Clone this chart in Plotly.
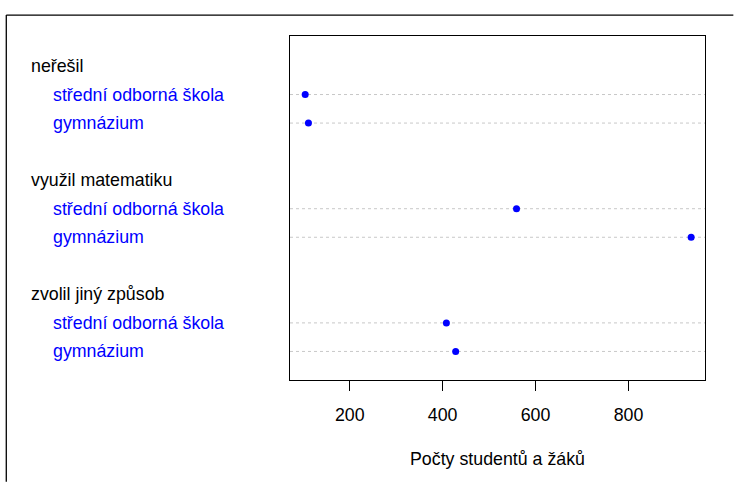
import plotly.graph_objects as go

# Data
groups = ["neřešil", "využil matematiku", "zvolil jiný způsob"]
schools = ["střední odborná škola", "gymnázium"]
sos_values = [104, 559, 408]
gym_values = [111, 935, 428]
x_ticks = [200, 400, 600, 800]
x_title = "Počty studentů a žáků"

W, H = 734, 483
L, R, T, B = 290.3, 29.3, 35.5, 103
pw, ph = W - L - R, H - T - B

def px2paper_x(px):
    return (px - L) / pw

def px2paper_y(py):
    return (H - B - py) / ph

FONT = "Liberation Sans, Arial, sans-serif"
FS = 17.8

# positions as in R dotchart with groups
n_groups = len(groups)
total = n_groups * 4 - 1
header_pos, sos_pos, gym_pos = [], [], []
for i in range(n_groups):
    top = total - 4 * i
    header_pos.append(top)
    sos_pos.append(top - 1)
    gym_pos.append(top - 2)

fig = go.Figure()
fig.add_trace(go.Scatter(
    x=sos_values + gym_values,
    y=sos_pos + gym_pos,
    mode="markers",
    marker=dict(color="#0000ff", size=7, line=dict(width=0)),
    showlegend=False,
    hoverinfo="skip",
))

shapes = []
for yp in sos_pos + gym_pos:
    shapes.append(dict(type="line", xref="paper", yref="y", x0=0, x1=1, y0=yp, y1=yp,
                       line=dict(color="#c8c8c8", width=1, dash="dot"), layer="below"))
# outer frame (top + left)
shapes.append(dict(type="line", xref="paper", yref="paper",
                   x0=px2paper_x(7), x1=px2paper_x(733), y0=px2paper_y(14.5), y1=px2paper_y(14.5),
                   line=dict(color="black", width=1.3)))
shapes.append(dict(type="line", xref="paper", yref="paper",
                   x0=px2paper_x(7), x1=px2paper_x(7), y0=px2paper_y(14.5), y1=px2paper_y(482),
                   line=dict(color="black", width=1.3)))

annotations = []
for i, g in enumerate(groups):
    annotations.append(dict(text=g, xref="paper", yref="y", x=px2paper_x(29.5), y=header_pos[i],
                            xanchor="left", yanchor="middle", showarrow=False,
                            font=dict(family=FONT, size=FS, color="black")))
    annotations.append(dict(text=schools[0], xref="paper", yref="y", x=px2paper_x(51.5), y=sos_pos[i],
                            xanchor="left", yanchor="middle", showarrow=False,
                            font=dict(family=FONT, size=FS, color="#0000ff")))
    annotations.append(dict(text=schools[1], xref="paper", yref="y", x=px2paper_x(51.5), y=gym_pos[i],
                            xanchor="left", yanchor="middle", showarrow=False,
                            font=dict(family=FONT, size=FS, color="#0000ff")))
annotations.append(dict(text=x_title, xref="paper", yref="paper", x=0.5, y=px2paper_y(459),
                        xanchor="center", yanchor="middle", showarrow=False,
                        font=dict(family=FONT, size=FS, color="black")))

fig.update_layout(
    width=W, height=H,
    margin=dict(l=L, r=R, t=T, b=B, pad=0),
    paper_bgcolor="white", plot_bgcolor="white",
    font=dict(family=FONT, size=FS, color="black"),
    xaxis=dict(range=[71.3, 964.8], tickvals=x_ticks, ticks="outside", ticklen=10,
               tickcolor="black", tickwidth=1, showgrid=False, zeroline=False,
               showline=True, linecolor="black", linewidth=1.3, mirror=True,
               ticklabelstandoff=8,
               tickfont=dict(family=FONT, size=FS, color="black")),
    yaxis=dict(range=[0, total + 1.05], showticklabels=False, ticks="", showgrid=False,
               zeroline=False, showline=True, linecolor="black", linewidth=1.3, mirror=True),
    shapes=shapes,
    annotations=annotations,
)

fig.write_html("out.html")
